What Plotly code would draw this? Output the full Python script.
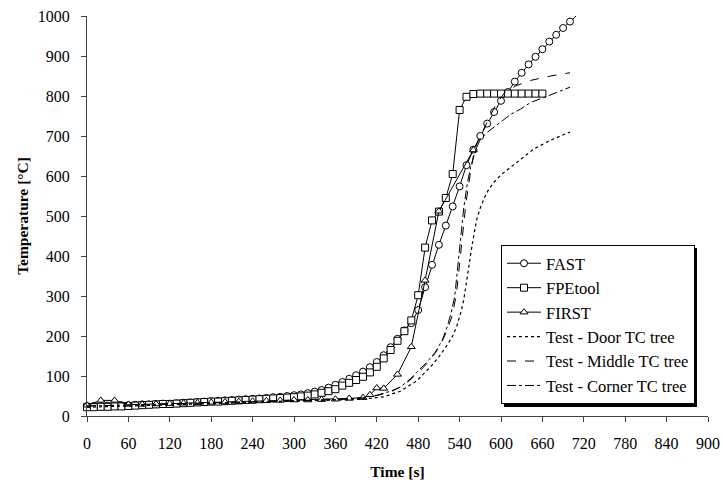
import plotly.graph_objects as go

# ---------------- data ----------------
fast_t = [0, 10, 20, 30, 40, 50, 60, 70, 80, 90,
          100, 110, 120, 130, 140, 150, 160, 170, 180, 190,
          200, 210, 220, 230, 240, 250, 260, 270, 280, 290,
          300, 310, 320, 330, 340, 350, 360, 370, 380, 390,
          400, 410, 420, 430, 440, 450, 460, 470, 480, 490,
          500, 510, 520, 530, 540, 550, 560, 570, 580, 590,
          600, 610, 620, 630, 640, 650, 660, 670, 680, 690,
          700, 710]
fast_T = [25, 25, 25, 26, 26, 27, 27, 28, 29, 29,
          30, 31, 31, 32, 33, 34, 35, 36, 37, 38,
          39, 40, 41, 42, 43, 44, 45, 47, 48, 50,
          52, 54, 57, 61, 65, 71, 78, 85, 93, 102,
          111, 122, 135, 152, 172, 193, 214, 232, 265, 322,
          378, 428, 476, 524, 574, 627, 666, 700, 731, 760,
          788, 810, 836, 858, 879, 898, 917, 936, 953, 970,
          986, 1002]

fpe_t = [0, 10, 20, 30, 40, 50, 60, 70, 80, 90,
         100, 110, 120, 130, 140, 150, 160, 170, 180, 190,
         200, 210, 220, 230, 240, 250, 260, 270, 280, 290,
         300, 310, 320, 330, 340, 350, 360, 370, 380, 390,
         400, 410, 420, 430, 440, 450, 460, 470, 480, 490,
         500, 510, 520, 530, 540, 550, 560, 570, 580, 590,
         600, 610, 620, 630, 640, 650, 660]
fpe_T = [22, 22, 23, 23, 24, 24, 25, 26, 27, 28,
         29, 30, 30, 31, 32, 33, 34, 35, 36, 36,
         37, 38, 39, 40, 41, 42, 43, 44, 45, 46,
         47, 49, 51, 54, 58, 62, 67, 76, 83, 90,
         98, 109, 123, 144, 165, 188, 212, 239, 302, 421,
         489, 511, 545, 605, 765, 798, 805, 806, 806, 806,
         806, 806, 806, 806, 806, 806, 806]

first_t = [0, 20, 40, 60, 80, 100, 120, 140, 160, 180, 200, 220, 240, 260, 280,
           300, 320, 340, 360, 380, 400, 410, 420, 430, 450, 470, 490, 510, 560]
first_T = [27, 39, 39, 29, 29, 30, 31, 32, 33, 34, 35, 36, 37, 38, 39,
           40, 40, 41, 42, 44, 46, 53, 70, 69, 104, 173, 339, 512, 665]

door_t = [0, 60, 120, 180, 240, 300, 360, 400, 430, 454, 478, 490, 500, 510, 520,
          530, 536, 542, 546, 550, 553, 557, 561, 565, 570, 576, 582, 590, 600, 620,
          648, 670, 696, 700]
door_T = [22, 25, 28, 31, 34, 36, 39, 42, 48, 62, 88, 108, 127, 148, 172,
          200, 225, 260, 290, 335, 372, 415, 456, 492, 520, 546, 566, 585, 603, 630,
          668, 688, 708, 710]

middle_t = [0, 60, 120, 180, 240, 300, 360, 400, 420, 440, 460, 480, 493, 505, 515,
            522, 529, 535, 540, 544, 549, 555, 560, 565, 570, 580, 590, 605, 621, 643,
            672, 696, 700]
middle_T = [25, 27, 30, 33, 35, 38, 41, 45, 51, 60, 78, 108, 132, 158, 188,
            214, 250, 300, 380, 450, 530, 600, 650, 680, 700, 735, 770, 808, 825, 839,
            850, 857, 858]

corner_t = [0, 60, 120, 180, 240, 300, 360, 400, 420, 440, 454, 470, 478, 493, 505,
            515, 522, 528, 533, 538, 542, 546, 551, 556, 563, 570, 580, 599, 614, 628,
            643, 662, 680, 696, 700]
corner_T = [25, 27, 30, 33, 35, 38, 41, 45, 52, 62, 72, 95, 110, 135, 160,
            190, 223, 260, 300, 380, 450, 520, 580, 622, 663, 692, 709, 734, 754, 767,
            784, 796, 808, 820, 822]

x_ticks = [0, 60, 120, 180, 240, 300, 360, 420, 480, 540, 600, 660, 720, 780, 840, 900]
y_ticks = [0, 100, 200, 300, 400, 500, 600, 700, 800, 900, 1000]

# ---------------- figure ----------------
SERIF = "Liberation Serif"
mk = dict(size=7, color="white", line=dict(color="black", width=1))

fig = go.Figure()
fig.add_trace(go.Scatter(x=fast_t, y=fast_T, name="FAST", mode="lines+markers",
                         line=dict(color="black", width=1),
                         marker=dict(symbol="circle", **mk), cliponaxis=False))
fig.add_trace(go.Scatter(x=fpe_t, y=fpe_T, name="FPEtool", mode="lines+markers",
                         line=dict(color="black", width=1),
                         marker=dict(symbol="square", **mk), cliponaxis=False))
fig.add_trace(go.Scatter(x=first_t, y=first_T, name="FIRST", mode="lines+markers",
                         line=dict(color="black", width=1),
                         marker=dict(symbol="triangle-up", **mk), cliponaxis=False))
fig.add_trace(go.Scatter(x=door_t, y=door_T, name="Test - Door TC tree", mode="lines",
                         line=dict(color="black", width=1.2, dash="dot")))
fig.add_trace(go.Scatter(x=middle_t, y=middle_T, name="Test - Middle TC tree", mode="lines",
                         line=dict(color="black", width=1, dash="dash")))
fig.add_trace(go.Scatter(x=corner_t, y=corner_T, name="Test - Corner TC tree", mode="lines",
                         line=dict(color="black", width=1, dash="dashdot")))

W, H = 723, 480
L, R, T, B = 87, 15, 16, 64

pw, ph = W - L - R, H - T - B
def px_x(v):
    return (v - L) / pw
def px_y(v):
    return (H - B - v) / ph

# legend shadow (paper coords)
fig.add_shape(type="rect", xref="paper", yref="paper",
              x0=px_x(504), x1=px_x(697), y0=px_y(407), y1=px_y(248),
              fillcolor="black", line=dict(width=0), layer="above")

fig.update_layout(
    width=W, height=H,
    margin=dict(l=L, r=R, t=T, b=B, autoexpand=False),
    paper_bgcolor="white", plot_bgcolor="white",
    font=dict(family=SERIF, size=16, color="black"),
    showlegend=True,
    legend=dict(x=px_x(501), y=px_y(245), xanchor="left", yanchor="top",
                bgcolor="white", bordercolor="black", borderwidth=1,
                font=dict(family=SERIF, size=16.5, color="black"),
                itemwidth=34, tracegroupgap=0),
    xaxis=dict(range=[0, 900], tickvals=x_ticks, ticktext=[str(v) for v in x_ticks],
               automargin=False,
               showgrid=False, zeroline=False, showline=True, linecolor="#404040",
               linewidth=1, ticks="outside", ticklen=5, tickcolor="#404040",
               ticklabelstandoff=8,
               tickfont=dict(family=SERIF, size=16),
               title=dict(text="<b>Time [s]</b>", font=dict(family=SERIF, size=15.5), standoff=16)),
    yaxis=dict(range=[0, 1000], tickvals=y_ticks, ticktext=[str(v) for v in y_ticks],
               automargin=False,
               showgrid=False, zeroline=False, showline=True, linecolor="#404040",
               linewidth=1, ticks="outside", ticklen=5, tickcolor="#404040",
               ticklabelstandoff=8,
               tickfont=dict(family=SERIF, size=16),
               title=dict(text="<b>Temperature [°C]</b>", font=dict(family=SERIF, size=15.5), standoff=5)),
)

fig.write_html("out.html")
